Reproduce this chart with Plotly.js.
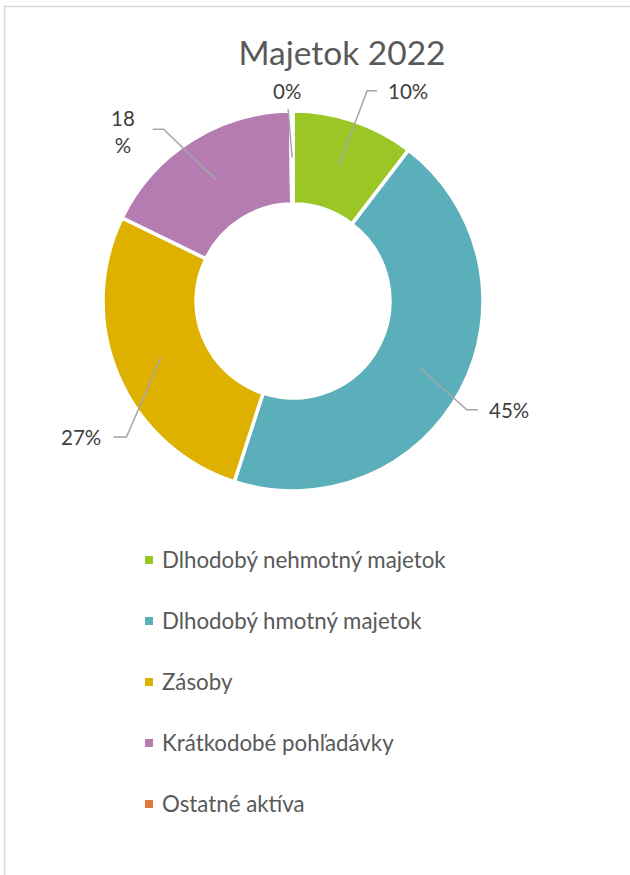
<!DOCTYPE html>
<html>
<head>
<meta charset="utf-8">
<script src="https://cdn.plot.ly/plotly-3.0.1.min.js"></script>
<style>html,body{margin:0;padding:0;background:#fff}#chart{width:630px;height:875px}</style>
</head>
<body>
<div id="chart"></div>
<script>
// ---- data ----
const chartTitle = 'Majetok 2022';
const categories = ['Dlhodobý nehmotný majetok', 'Dlhodobý hmotný majetok', 'Zásoby', 'Krátkodobé pohľadávky', 'Ostatné aktíva'];
const values = [10.4, 44.6, 27.2, 17.6, 0.2];
const colors = ['#9BC726', '#5AAFBA', '#DEB000', '#B57CB2', '#E07A3A'];

// ---- layout / style ----
const W = 630, H = 875;
const CX = 293, CY = 301, R = 190, HOLE = 0.51;
const FONT = 'Lato, "Open Sans", sans-serif';
// label placement tweaks (per slice): angle shift (deg), elbow radius, arm length, text gap
const labelAngleShift = [0.7, 4.3, -16.2, -4.6, -1.1];
const labelRadius = [223, 205, 215, 215, 192];
const labelArm = [10, 11, 13, 11, 0];
const labelGap = [9, 9, 10, 16, 0];

const px = x => x / W;
const py = y => 1 - y / H;
const polar = (deg, r) => [CX + r * Math.sin(deg * Math.PI / 180), CY - r * Math.cos(deg * Math.PI / 180)];

const total = values.reduce((a, b) => a + b, 0);
const shapes = [];
const annotations = [];

// leader lines + percentage labels derived from data
let cum = 0;
values.forEach((v, i) => {
  const mid = (cum + v / 2) / total * 360;
  cum += v;
  const pct = Math.round(v / total * 100) + '%';
  const [x0, y0] = polar(mid, R * (1 + HOLE) / 2);
  const ang = mid + labelAngleShift[i];
  const [x1, y1] = polar(ang, labelRadius[i]);
  const right = Math.sin(ang * Math.PI / 180) > 0.05;
  const left = Math.sin(ang * Math.PI / 180) < -0.05;
  const x2 = right ? x1 + labelArm[i] : (left ? x1 - labelArm[i] : x1);
  shapes.push({
    type: 'path', xref: 'paper', yref: 'paper',
    path: `M ${px(x0)} ${py(y0)} L ${px(x1)} ${py(y1)} L ${px(x2)} ${py(y1)}`,
    line: {color: '#A6A6A6', width: 1.5}
  });
  let text = pct;
  if (i === 3) text = pct.replace('%', '<br>%');
  const ann = {
    xref: 'paper', yref: 'paper', showarrow: false, text: text,
    font: {family: FONT, size: 20.5, color: '#404040'}, align: 'center'
  };
  if (right) {
    Object.assign(ann, {x: px(x2 + labelGap[i]), y: py(y1), xanchor: 'left', yanchor: 'middle'});
  } else if (left) {
    Object.assign(ann, {x: px(x2 - labelGap[i]), y: py(y1 + (i === 3 ? 2 : 0)), xanchor: 'right', yanchor: 'middle'});
  } else {
    Object.assign(ann, {x: px(x1 - 1), y: py(y1 - 4), xanchor: 'center', yanchor: 'bottom'});
  }
  annotations.push(ann);
});

// legend (manual, to mirror the wide spacing of the original)
const legX = 145, legSq = 8, legTextX = 160, legY0 = 559, legStep = 61;
categories.forEach((c, i) => {
  const yc = legY0 + i * legStep;
  shapes.push({
    type: 'rect', xref: 'paper', yref: 'paper',
    x0: px(legX), x1: px(legX + legSq), y0: py(yc + 1 + legSq / 2), y1: py(yc + 1 - legSq / 2),
    fillcolor: colors[i], line: {width: 0}
  });
  annotations.push({
    xref: 'paper', yref: 'paper', showarrow: false, text: c,
    x: px(legTextX), y: py(yc), xanchor: 'left', yanchor: 'middle',
    font: {family: FONT, size: 22.3, color: '#595959'}
  });
});

// chart-area border (top and left visible)
shapes.push({
  type: 'rect', xref: 'paper', yref: 'paper', layer: 'below',
  x0: px(4.5), x1: 1.02, y0: -0.02, y1: py(6.5),
  line: {color: '#D9D9D9', width: 1.5}
});

const trace = {
  type: 'pie',
  labels: categories,
  values: values,
  sort: false,
  direction: 'clockwise',
  rotation: 0,
  hole: HOLE,
  textinfo: 'none',
  hoverinfo: 'label+percent',
  marker: {colors: colors, line: {color: '#FFFFFF', width: 3.5}},
  domain: {x: [px(CX - R), px(CX + R)], y: [py(CY + R), py(CY - R)]},
  showlegend: false
};

const layout = {
  width: W, height: H,
  margin: {l: 0, r: 0, t: 0, b: 0},
  paper_bgcolor: '#FFFFFF',
  showlegend: false,
  title: {
    text: chartTitle, x: px(342), xanchor: 'center', xref: 'paper',
    y: py(53), yanchor: 'middle', yref: 'container',
    font: {family: FONT, size: 33.5, color: '#595959'}
  },
  shapes: shapes,
  annotations: annotations
};

Plotly.newPlot('chart', [trace], layout, {displayModeBar: false, staticPlot: true});
</script>
</body>
</html>
